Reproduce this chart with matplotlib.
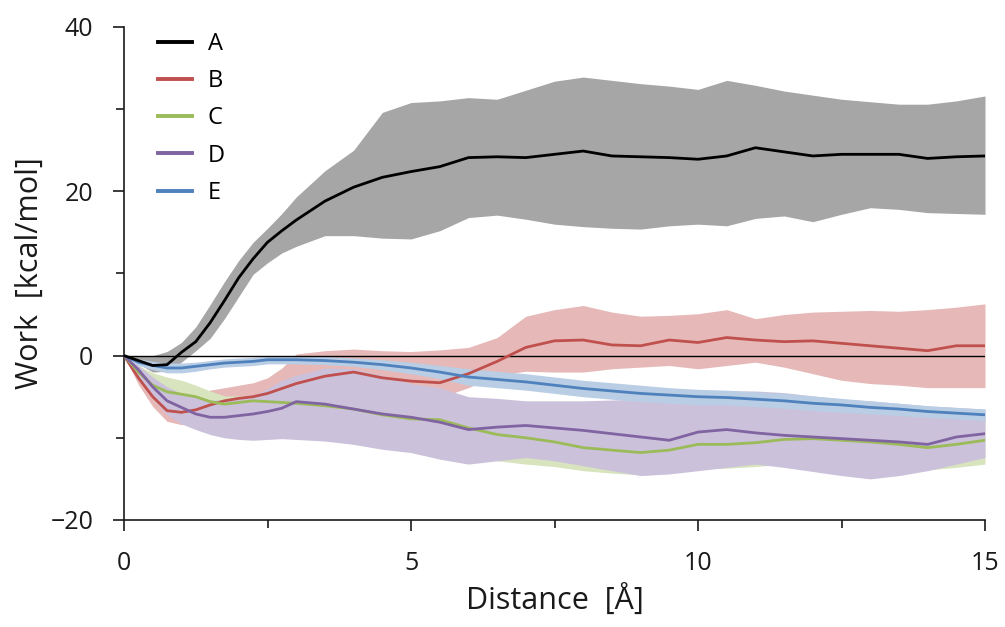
import matplotlib
matplotlib.use("Agg")
import matplotlib.pyplot as plt
import numpy as np
from matplotlib.ticker import MultipleLocator

plt.rcParams["font.family"] = ["Open Sans", "DejaVu Sans"]

# distance grid (Å)
distance = [0, 0.25, 0.5, 0.75, 1, 1.25, 1.5, 1.75, 2, 2.25, 2.5, 2.75, 3,
            3.5, 4, 4.5, 5, 5.5, 6, 6.5, 7, 7.5, 8, 8.5, 9, 9.5, 10,
            10.5, 11, 11.5, 12, 12.5, 13, 13.5, 14, 14.5, 15]

# series A
a_mean = [0, -0.6, -1.2, -1.1, 0.4, 1.7, 4.0, 6.7, 9.5, 11.8, 13.8, 15.2, 16.5,
          18.8, 20.5, 21.7, 22.4, 23.0, 24.1, 24.2, 24.1, 24.5, 24.9, 24.3, 24.2, 24.1, 23.9,
          24.3, 25.3, 24.8, 24.3, 24.5, 24.5, 24.5, 24.0, 24.2, 24.3]
a_upper = [0, 0, 0, 0.5, 1.6, 3.5, 6.2, 9.0, 11.6, 13.8, 15.5, 17.3, 19.3,
           22.5, 25.0, 29.6, 30.8, 31.0, 31.4, 31.2, 32.3, 33.4, 33.9, 33.5, 33.1, 32.8, 32.4,
           33.5, 32.9, 32.2, 31.7, 31.2, 30.9, 30.6, 30.6, 31.0, 31.6]
a_lower = [0, -1.0, -2.0, -1.9, -0.8, 0.6, 2.1, 4.5, 7.2, 9.9, 11.3, 12.5, 13.3,
           14.6, 14.6, 14.3, 14.2, 15.2, 16.8, 17.1, 16.6, 16.0, 15.7, 15.5, 15.4, 15.8, 16.0,
           15.8, 16.7, 17.0, 16.3, 17.2, 18.0, 17.8, 17.4, 17.3, 17.2]

# series B
b_mean = [0, -2.7, -5.0, -6.7, -6.9, -6.6, -6.0, -5.5, -5.2, -5.0, -4.6, -4.0, -3.4,
          -2.5, -2.0, -2.7, -3.1, -3.3, -2.2, -0.7, 1.0, 1.8, 1.9, 1.3, 1.2, 1.9, 1.6,
          2.2, 1.9, 1.7, 1.8, 1.5, 1.2, 0.9, 0.6, 1.2, 1.2]
b_upper = [0, -1.8, -3.8, -5.2, -5.5, -5.0, -4.2, -3.9, -3.6, -3.3, -2.7, -1.5, 0.2,
           0.6, 0.8, 0.6, 0.5, 0.7, 1.0, 2.2, 4.8, 5.6, 6.1, 5.3, 4.8, 4.9, 5.1,
           5.6, 4.5, 5.0, 5.3, 5.4, 5.5, 5.4, 5.6, 5.9, 6.3]
b_lower = [0, -3.5, -6.2, -8.0, -8.4, -8.2, -7.8, -7.2, -6.8, -6.6, -6.3, -6.0, -5.6,
           -5.0, -4.9, -5.4, -5.6, -5.1, -3.9, -2.4, -1.9, -2.0, -2.0, -1.6, -1.4, -1.2, -1.6,
           -1.2, -0.8, -1.4, -2.2, -3.0, -3.4, -3.6, -3.9, -3.9, -3.9]

# series C
c_mean = [0, -2.0, -3.6, -4.4, -4.7, -5.0, -5.6, -5.9, -5.7, -5.5, -5.6, -5.7, -5.8,
          -6.1, -6.5, -7.2, -7.7, -7.8, -8.8, -9.6, -10.0, -10.5, -11.2, -11.5, -11.8, -11.5, -10.8,
          -10.8, -10.6, -10.2, -10.1, -10.3, -10.5, -10.8, -11.2, -10.8, -10.3]
c_upper = [0, -1.2, -2.1, -2.6, -3.0, -3.6, -4.3, -4.9, -4.9, -4.8, -4.8, -4.9, -5.0,
           -5.0, -5.2, -5.6, -5.9, -6.0, -6.5, -7.0, -7.4, -7.8, -8.4, -8.6, -8.8, -8.6, -8.0,
           -8.0, -7.9, -7.6, -7.5, -7.7, -7.9, -8.2, -8.6, -8.2, -7.8]
c_lower = [0, -2.6, -4.6, -5.6, -6.2, -6.6, -7.2, -7.6, -7.6, -7.6, -7.8, -8.0, -8.2,
           -8.8, -9.4, -10.2, -10.9, -11.2, -12.2, -12.8, -13.2, -13.5, -14.0, -14.3, -14.5, -14.3, -13.8,
           -13.7, -13.5, -13.2, -13.0, -13.2, -13.4, -13.6, -13.9, -13.6, -13.2]

# series D
d_mean = [0, -1.7, -3.8, -5.5, -6.3, -7.1, -7.5, -7.5, -7.3, -7.1, -6.8, -6.4, -5.6,
          -5.9, -6.5, -7.1, -7.5, -8.1, -9.0, -8.7, -8.5, -8.8, -9.1, -9.5, -9.9, -10.3, -9.3,
          -9.0, -9.4, -9.7, -9.9, -10.1, -10.3, -10.5, -10.8, -9.9, -9.5]
d_upper = [0, -1.2, -2.6, -3.8, -4.6, -5.0, -5.4, -5.4, -5.2, -4.9, -4.0, -3.0, -2.4,
           -1.5, -1.6, -2.4, -3.4, -3.9, -5.0, -5.2, -5.5, -5.5, -5.5, -5.4, -5.3, -5.1, -5.3,
           -4.3, -4.3, -4.5, -4.9, -5.3, -5.5, -5.8, -6.1, -6.3, -6.5]
d_lower = [0, -2.5, -5.2, -7.2, -8.3, -9.0, -9.6, -10.0, -10.2, -10.3, -10.2, -10.1, -10.2,
           -10.4, -10.8, -11.4, -11.8, -12.6, -13.2, -12.8, -12.4, -12.8, -13.4, -14.0, -14.6, -14.4, -14.0,
           -13.6, -13.2, -13.6, -14.1, -14.6, -15.0, -14.6, -14.0, -13.2, -12.4]

# series E
e_mean = [0, -0.8, -1.2, -1.5, -1.5, -1.3, -1.1, -0.9, -0.8, -0.7, -0.5, -0.5, -0.5,
          -0.6, -0.8, -1.1, -1.5, -2.0, -2.6, -2.9, -3.2, -3.6, -4.0, -4.3, -4.6, -4.8, -5.0,
          -5.1, -5.3, -5.5, -5.8, -6.0, -6.3, -6.5, -6.8, -7.0, -7.2]
e_upper = [0, -0.4, -0.7, -0.9, -0.9, -0.8, -0.6, -0.4, -0.3, -0.2, -0.1, -0.1, -0.1,
           -0.1, -0.3, -0.5, -0.8, -1.2, -1.6, -1.9, -2.2, -2.6, -3.0, -3.3, -3.6, -3.9, -4.1,
           -4.2, -4.4, -4.6, -4.9, -5.2, -5.5, -5.8, -6.1, -6.3, -6.5]
e_lower = [0, -1.2, -1.7, -2.1, -2.1, -1.9, -1.6, -1.4, -1.3, -1.2, -1.0, -1.0, -1.0,
           -1.1, -1.3, -1.7, -2.2, -2.8, -3.6, -3.9, -4.2, -4.6, -5.0, -5.3, -5.6, -5.8, -6.0,
           -6.0, -6.2, -6.4, -6.7, -6.9, -7.1, -7.3, -7.5, -7.7, -7.9]

labels = ["A", "B", "C", "D", "E"]
line_colors = ["#000000", "#C0504D", "#9BBB59", "#8064A2", "#4F81BD"]
band_colors = ["#A6A6A6", "#E6B9B8", "#D7E4BD", "#CCC1DA", "#B9CDE5"]

means = [a_mean, b_mean, c_mean, d_mean, e_mean]
uppers = [a_upper, b_upper, c_upper, d_upper, e_upper]
lowers = [a_lower, b_lower, c_lower, d_lower, e_lower]

fig = plt.figure(figsize=(10.05, 6.27), dpi=100)
ax = fig.add_axes([0.1234, 0.1707, 0.8567, 0.7863])

x = np.array(distance)
# bands first, in order A, B, C, D, E so later ones sit on top
for lo, hi, col in zip(lowers, uppers, band_colors):
    ax.fill_between(x, lo, hi, color=col, linewidth=0, zorder=1)

ax.axhline(0, color="black", linewidth=1.0, zorder=2)

line_order = [1, 2, 3, 4, 0]
handles = {}
for i in line_order:
    (h,) = ax.plot(x, means[i], color=line_colors[i], linewidth=2.0, zorder=3)
    handles[i] = h

ax.set_xlim(0, 15)
ax.set_ylim(-20, 40)
ax.xaxis.set_major_locator(MultipleLocator(5))
ax.xaxis.set_minor_locator(MultipleLocator(2.5))
ax.yaxis.set_major_locator(MultipleLocator(20))
ax.yaxis.set_minor_locator(MultipleLocator(10))

for side in ["top", "right"]:
    ax.spines[side].set_visible(False)
for side in ["left", "bottom"]:
    ax.spines[side].set_linewidth(1.2)
    ax.spines[side].set_color("#1a1a1a")

ax.tick_params(which="major", direction="out", length=8, width=1.2,
               color="#1a1a1a", labelsize=18, pad=14, labelcolor="#1a1a1a")
ax.tick_params(which="minor", direction="out", length=6, width=1.2,
               color="#1a1a1a")

ax.set_xlabel("Distance  [Å]", fontsize=22, color="#1a1a1a", labelpad=7)
ax.set_ylabel("Work  [kcal/mol]", fontsize=22, color="#1a1a1a", labelpad=4)

ax.legend([handles[i] for i in range(5)], labels, loc="upper left",
          bbox_to_anchor=(0.0395, 0.99), frameon=False, fontsize=17,
          handlelength=1.45, handletextpad=0.65, labelspacing=0.56,
          borderpad=0, borderaxespad=0)
for line in ax.get_legend().get_lines():
    line.set_linewidth(2.8)

fig.savefig("out.png", dpi=100)
